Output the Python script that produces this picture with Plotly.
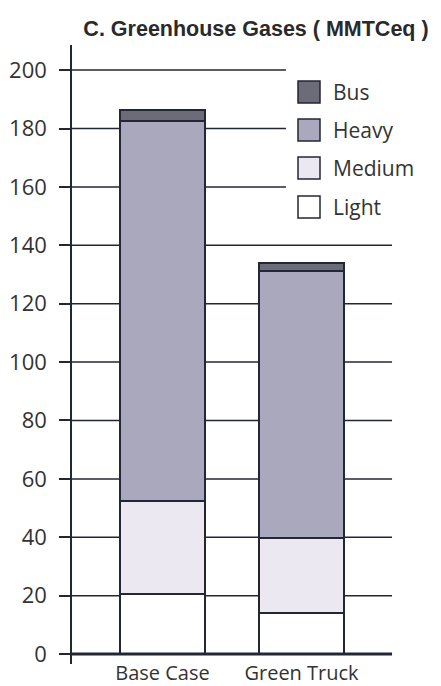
import plotly.graph_objects as go

categories = ["Base Case", "Green Truck"]
light = [20.5, 14.0]
medium = [32.0, 25.7]
heavy = [130.0, 91.5]
bus = [3.8, 2.7]

series_names = ["Light", "Medium", "Heavy", "Bus"]
series_values = [light, medium, heavy, bus]
series_colors = ["#ffffff", "#ebe8f1", "#aaa8bd", "#6c6b78"]

y_ticks = [0, 20, 40, 60, 80, 100, 120, 140, 160, 180, 200]
short_grid = [160, 180, 200]

W, H = 441, 686
ML, MR, MT, MB = 64, 55, 37, 30
PW, PH = W - ML - MR, H - MT - MB
DARK = "#232634"
TXT = "#333333"
FONT = "Open Sans"

def px_x(px):
    return (px - ML) / PW

def px_y(py):
    return (H - MB - py) / PH

fig = go.Figure()
for name, vals, col in zip(series_names, series_values, series_colors):
    fig.add_trace(go.Bar(
        x=categories, y=vals, name=name, width=0.61,
        marker=dict(color=col, line=dict(color=DARK, width=1.5)),
        showlegend=False,
    ))

shapes = []
for t in y_ticks[1:]:
    x1 = 0.888 if t in short_grid else 1.651
    shapes.append(dict(type="line", xref="x", yref="y", x0=-0.651, x1=x1, y0=t, y1=t,
                       line=dict(color=DARK, width=1.5), layer="below"))
shapes.append(dict(type="line", xref="x", yref="y", x0=-0.759, x1=1.651, y0=0, y1=0,
                   line=dict(color=DARK, width=3), layer="above"))

# custom legend (top to bottom: Bus, Heavy, Medium, Light)
annotations = []
leg_y = [84, 122, 160, 199]
for (name, col), cy in zip(list(zip(series_names, series_colors))[::-1], leg_y):
    shapes.append(dict(type="rect", xref="paper", yref="paper",
                       x0=px_x(290), x1=px_x(312), y0=px_y(cy + 11), y1=px_y(cy - 11),
                       fillcolor=col, line=dict(color=DARK, width=1.5)))
    annotations.append(dict(xref="paper", yref="paper", x=px_x(323), y=px_y(cy),
                            text=name, showarrow=False, xanchor="left", yanchor="middle",
                            font=dict(family=FONT, size=21, color=TXT)))

fig.update_layout(
    width=W, height=H,
    margin=dict(l=ML, r=MR, t=MT, b=MB, autoexpand=False),
    barmode="stack",
    paper_bgcolor="white", plot_bgcolor="white",
    title=dict(text="<b>C. Greenhouse Gases ( MMTCeq )</b>", x=248 / W,
               xanchor="center", y=1 - 20 / H, yanchor="middle",
               font=dict(family="Liberation Sans", size=21.5, color="#2a2a2a")),
    shapes=shapes, annotations=annotations,
    showlegend=False,
)
fig.update_xaxes(range=[-0.651, 1.665], showline=False, showgrid=False, ticks="",
                 automargin=False, ticklabelstandoff=-5,
                 tickfont=dict(family=FONT, size=20, color=TXT), zeroline=False)
fig.update_yaxes(range=[-3.4, 208.6], tickvals=y_ticks, showgrid=False, zeroline=False,
                 automargin=False,
                 showline=True, linecolor=DARK, linewidth=1.5,
                 ticks="outside", ticklen=11, tickcolor=DARK, tickwidth=1.5,
                 ticklabelstandoff=8,
                 tickfont=dict(family=FONT, size=22, color=TXT))

fig.write_html("out.html")
